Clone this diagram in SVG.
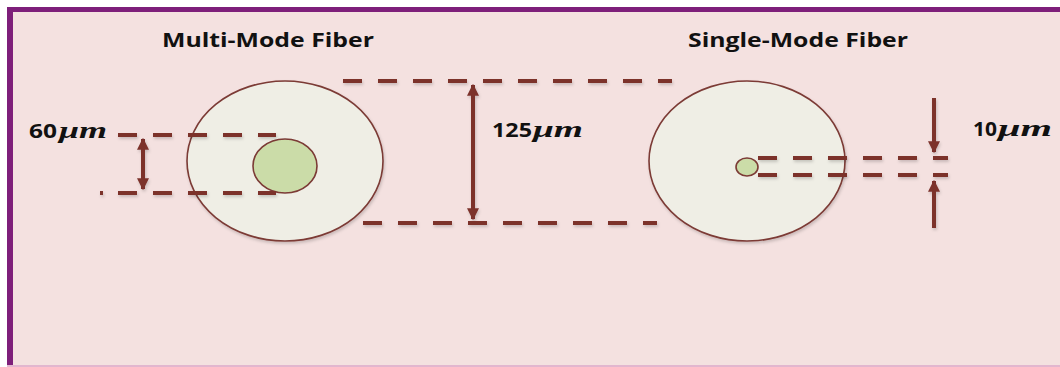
<svg xmlns="http://www.w3.org/2000/svg" width="1060" height="367" viewBox="0 0 1060 367">
  <style>
    .title { font-family: "Open Sans", "Liberation Sans", sans-serif; font-weight: bold; font-size: 20px; fill: #111; font-variant-ligatures: none; }
    .num { font-family: "Open Sans", "Liberation Sans", sans-serif; font-weight: bold; font-size: 20px; fill: #111; }
    .unit { font-family: "Liberation Serif", serif; font-style: italic; font-weight: bold; font-size: 23px; fill: #111; }
    .cladding { fill: #efeee5; stroke: #7b3a35; stroke-width: 1.6; }
    .core { fill: #cbdca8; stroke: #7b3a35; stroke-width: 1.6; }
    .dash { stroke: #7b302c; stroke-width: 4; stroke-dasharray: 19 16; fill: none; }
    .dim { stroke: #7b302c; stroke-width: 4; fill: none; }
  </style>
  <defs>
    <marker id="head" viewBox="0 0 10 10" refX="9" refY="5" markerWidth="3" markerHeight="3" orient="auto-start-reverse" markerUnits="strokeWidth">
      <path d="M0,0 L10,5 L0,10 Z" fill="#7b302c"/>
    </marker>
    <filter id="soft" x="-5%" y="-20%" width="110%" height="140%">
      <feDropShadow dx="1" dy="2" stdDeviation="1.5" flood-color="#000" flood-opacity="0.18"/>
    </filter>
  </defs>

  <!-- page background and frame -->
  <rect x="0" y="0" width="1060" height="367" fill="#ffffff"/>
  <rect x="7" y="7" width="1053" height="360" fill="#f4e1e0"/>
  <rect x="7" y="7" width="1053" height="5" fill="#7e1f7a"/>
  <rect x="7" y="7" width="6" height="360" fill="#7e1f7a"/>
  <rect x="7" y="365" width="1053" height="2" fill="#e2b6cf"/>

  <!-- fibre cross-sections -->
  <g id="multi-mode-fiber" filter="url(#soft)">
    <ellipse class="cladding" cx="285" cy="161" rx="98" ry="80"/>
    <ellipse class="core" cx="285" cy="166" rx="32" ry="27"/>
  </g>
  <g id="single-mode-fiber" filter="url(#soft)">
    <ellipse class="cladding" cx="747" cy="161" rx="98" ry="80"/>
    <ellipse class="core" cx="747" cy="167" rx="11" ry="9"/>
  </g>

  <!-- dimension lines -->
  <g id="connectors" filter="url(#soft)">
    <!-- core of multi-mode fibre -->
    <line class="dash" x1="118" y1="135" x2="276" y2="135"/>
    <line class="dash" x1="100" y1="193" x2="103" y2="193" style="stroke-dasharray:none"/>
    <line class="dash" x1="118" y1="193" x2="276" y2="193"/>
    <line class="dim" x1="143" y1="139" x2="143" y2="189" marker-start="url(#head)" marker-end="url(#head)"/>
    <!-- cladding diameter -->
    <line class="dash" x1="343" y1="81" x2="672" y2="81"/>
    <line class="dash" x1="363" y1="223" x2="657" y2="223"/>
    <line class="dim" x1="473" y1="85" x2="473" y2="219" marker-start="url(#head)" marker-end="url(#head)"/>
    <!-- core of single-mode fibre -->
    <line class="dash" x1="758" y1="158" x2="948" y2="158"/>
    <line class="dash" x1="758" y1="175" x2="948" y2="175"/>
    <line class="dim" x1="934" y1="98" x2="934" y2="152" marker-end="url(#head)"/>
    <line class="dim" x1="934" y1="228" x2="934" y2="181" marker-end="url(#head)"/>
  </g>

  <!-- labels -->
  <g id="labels">
    <text class="title" x="162" y="47" textLength="212" lengthAdjust="spacingAndGlyphs">Multi-Mode Fiber</text>
    <text class="title" x="688" y="47" textLength="220" lengthAdjust="spacingAndGlyphs">Single-Mode Fiber</text>
    <text class="num" x="29" y="138" textLength="28" lengthAdjust="spacingAndGlyphs">60</text>
    <text class="unit" x="59" y="138" textLength="48" lengthAdjust="spacingAndGlyphs">μm</text>
    <text class="num" x="492" y="137" textLength="40" lengthAdjust="spacingAndGlyphs">125</text>
    <text class="unit" x="533" y="137" textLength="50" lengthAdjust="spacingAndGlyphs">μm</text>
    <text class="num" x="973" y="136" textLength="24" lengthAdjust="spacingAndGlyphs">10</text>
    <text class="unit" x="998" y="136" textLength="54" lengthAdjust="spacingAndGlyphs">μm</text>
  </g>
</svg>
